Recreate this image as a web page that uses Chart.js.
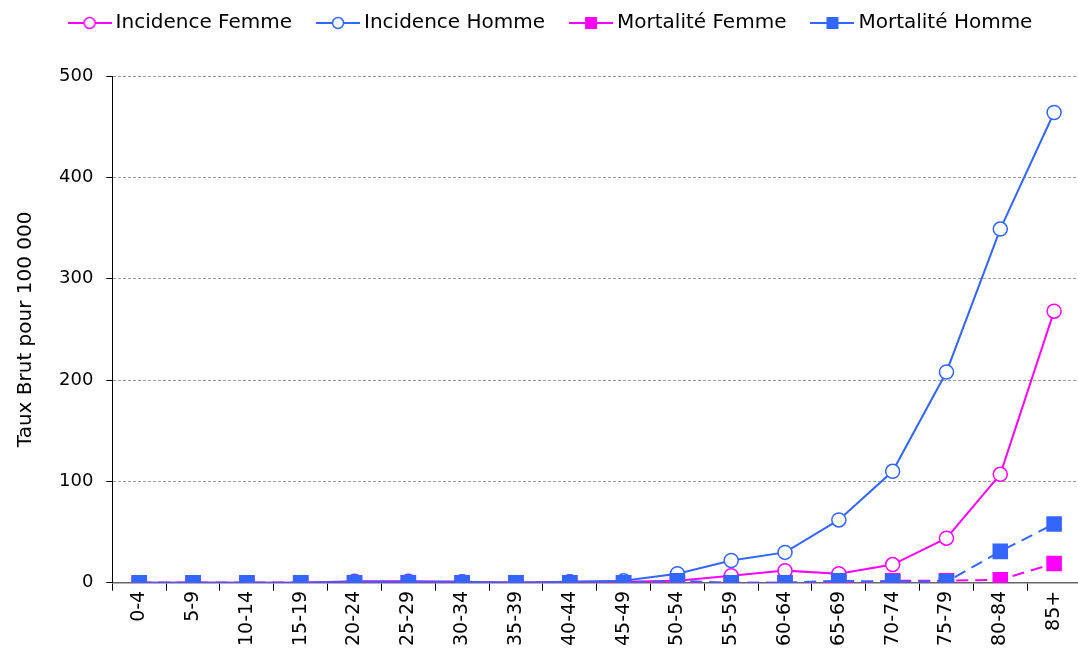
<!DOCTYPE html>
<html>
<head>
<meta charset="utf-8">
<script src="https://cdn.jsdelivr.net/npm/chart.js@4/dist/chart.umd.min.js"></script>
<style>
  html, body { margin: 0; padding: 0; background: #fff; overflow: hidden; }
  #wrap { width: 1092px; height: 646px; }
</style>
</head>
<body>
<div id="wrap"><canvas id="chart"></canvas></div>
<script>
// tranches d'âge
const ageGroups = ["0-4", "5-9", "10-14", "15-19", "20-24", "25-29", "30-34", "35-39", "40-44",
  "45-49", "50-54", "55-59", "60-64", "65-69", "70-74", "75-79", "80-84", "85+"];

// taux brut pour 100 000
const incidenceFemme = [0, 0, 0, 0, 1.5, 1.5, 1, 0, 1, 1, 2, 7, 12, 9, 18, 44, 107, 268];
const incidenceHomme = [0, 0, 0, 0, 1, 1, 1, 0, 1, 2, 9, 22, 30, 62, 110, 208, 349, 464];
const mortaliteFemme = [0, 0, 0, 0, 0, 0, 0, 0, 0, 0, 0, 0, 0, 0, 2, 2, 3, 19];
const mortaliteHomme = [0, 0, 0, 0, 0, 0, 0, 0, 0, 0, 2, 0, 0, 2, 1, 1, 31, 58];

const yTicks = [0, 100, 200, 300, 400, 500];

const PINK = "#FF00FF";
const BLUE = "#3366FF";

// petit symbole de légende : trait + marqueur
function legendIcon(color, shape) {
  const c = document.createElement("canvas");
  c.width = 44; c.height = 16;
  const g = c.getContext("2d");
  g.strokeStyle = color;
  g.lineWidth = 2;
  g.beginPath(); g.moveTo(0, 8); g.lineTo(44, 8); g.stroke();
  if (shape === "circle") {
    g.fillStyle = "#fff";
    g.lineWidth = 1.5;
    g.beginPath(); g.arc(22, 8, 5.5, 0, Math.PI * 2); g.fill(); g.stroke();
  } else {
    g.fillStyle = color;
    g.fillRect(16, 2, 12, 12);
  }
  return c;
}

const icons = [
  legendIcon(PINK, "circle"),
  legendIcon(BLUE, "circle"),
  legendIcon(PINK, "rect"),
  legendIcon(BLUE, "rect")
];

// un peu plus d'espace sous la légende
const legendSpace = {
  id: "legendSpace",
  beforeInit(chart) {
    const fit = chart.legend.fit;
    chart.legend.fit = function () {
      fit.bind(chart.legend)();
      this.height += 33;
    };
  }
};

const ctx = document.getElementById("chart").getContext("2d");
new Chart(ctx, {
  type: "line",
  data: {
    labels: ageGroups,
    datasets: [
      {
        label: "Incidence Femme",
        data: incidenceFemme,
        borderColor: PINK,
        borderWidth: 2,
        pointStyle: "circle",
        pointRadius: 7,
        pointBorderWidth: 1.5,
        pointBackgroundColor: "#fff",
        pointBorderColor: PINK,
        order: 4
      },
      {
        label: "Incidence Homme",
        data: incidenceHomme,
        borderColor: BLUE,
        borderWidth: 2,
        pointStyle: "circle",
        pointRadius: 7,
        pointBorderWidth: 1.5,
        pointBackgroundColor: "#fff",
        pointBorderColor: BLUE,
        order: 3
      },
      {
        label: "Mortalité Femme",
        data: mortaliteFemme,
        borderColor: PINK,
        borderWidth: 2,
        borderDash: [12, 7],
        pointStyle: "rect",
        pointRadius: 11,
        pointBorderWidth: 0,
        pointBackgroundColor: PINK,
        pointBorderColor: PINK,
        order: 2
      },
      {
        label: "Mortalité Homme",
        data: mortaliteHomme,
        borderColor: BLUE,
        borderWidth: 2,
        borderDash: [12, 7],
        pointStyle: "rect",
        pointRadius: 11,
        pointBorderWidth: 0,
        pointBackgroundColor: BLUE,
        pointBorderColor: BLUE,
        order: 1
      }
    ]
  },
  options: {
    responsive: true,
    maintainAspectRatio: false,
    animation: false,
    layout: { padding: { left: 14, right: 0, top: -17, bottom: 0 } },
    plugins: {
      tooltip: { enabled: false },
      legend: {
        position: "top",
        labels: {
          usePointStyle: true,
          pointStyleWidth: 32,
          padding: 30,
          color: "#000",
          font: { family: "DejaVu Sans", size: 20 },
          generateLabels: (chart) => chart.data.datasets.map((ds, i) => ({
            text: ds.label,
            pointStyle: icons[i],
            fillStyle: ds.borderColor,
            strokeStyle: ds.borderColor,
            lineWidth: 0,
            hidden: !chart.isDatasetVisible(i),
            datasetIndex: i
          }))
        }
      }
    },
    scales: {
      x: {
        offset: true,
        grid: {
          offset: true,
          drawOnChartArea: false,
          tickLength: 8,
          color: "#000"
        },
        border: { color: "#666", width: 1.5 },
        ticks: {
          color: "#000",
          minRotation: 90,
          maxRotation: 90,
          padding: 0,
          font: { family: "DejaVu Sans", size: 19 }
        }
      },
      y: {
        min: 0,
        max: 500,
        afterBuildTicks: (axis) => { axis.ticks = yTicks.map(v => ({ value: v })); },
        grid: {
          color: "#999",
          tickLength: 6,
          tickColor: "#000",
          tickBorderDash: []
        },
        border: { color: "#000", width: 1, dash: [3, 2] },
        ticks: {
          color: "#000",
          padding: 13,
          font: { family: "DejaVu Sans", size: 18 }
        },
        title: {
          display: true,
          text: "Taux Brut pour 100 000",
          color: "#000",
          padding: { top: 0, bottom: 8 },
          font: { family: "DejaVu Sans", size: 20 }
        }
      }
    }
  },
  plugins: [legendSpace]
});
</script>
</body>
</html>
